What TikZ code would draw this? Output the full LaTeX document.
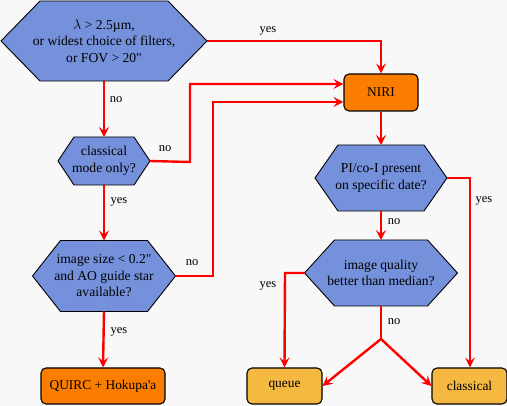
\documentclass[tikz,border=0pt]{standalone}
\usepackage{fontspec}
\setmainfont{Liberation Serif}[Ligatures=TeXOff]
\usetikzlibrary{arrows.meta}
\definecolor{bg}{HTML}{F8F8F8}
\definecolor{hexblue}{HTML}{7591DB}
\definecolor{niriorange}{HTML}{FA7D00}
\definecolor{lightorange}{HTML}{F5B942}
\definecolor{linered}{HTML}{FF0000}
\tikzset{
  hexshape/.style={fill=hexblue,draw=black,line width=0.9pt},
  hextext/.style={align=center,font=\fontsize{13.6}{16.5}\selectfont,inner sep=0pt},
  resultbox/.style={draw=black,line width=1.1pt,rounded corners=5pt,inner sep=0pt,font=\fontsize{13.4}{16}\selectfont},
  conn/.style={draw=linered,line width=2.4pt,-{Stealth[length=10pt,width=10pt,inset=4pt]}},
  connplain/.style={draw=linered,line width=2.4pt},
  lbl/.style={font=\fontsize{12.5}{14}\selectfont,inner sep=0pt}
}
% name, cx, cy, half width, half height, tip length, text
\newcommand\hexnode[7]{%
  \path[hexshape] ({#2-#4},#3) -- ({#2-#4+#6},{#3-#5}) -- ({#2+#4-#6},{#3-#5}) -- ({#2+#4},#3) -- ({#2+#4-#6},{#3+#5}) -- ({#2-#4+#6},{#3+#5}) -- cycle;
  \node[hextext] (#1) at (#2,#3) {#7};
  \coordinate (#1-W) at ({#2-#4},#3);
  \coordinate (#1-E) at ({#2+#4},#3);
  \coordinate (#1-N) at (#2,{#3-#5});
  \coordinate (#1-S) at (#2,{#3+#5});
}
\begin{document}
\begin{tikzpicture}[x=1pt,y=-1pt]
\fill[bg] (0,0) rectangle (507,406);
\useasboundingbox (0,0) rectangle (507,406);

\hexnode{h1}{104}{41}{103}{40}{39}{$\lambda$ > 2.5µm,\\or widest choice of filters,\\or FOV > 20"}
\hexnode{h2}{104}{161}{46}{24}{16}{classical\\mode only?}
\hexnode{h3}{104}{276}{71.5}{35.5}{28}{image size < 0.2"\\and AO guide star\\available?}
\hexnode{h4}{381}{178}{66}{33}{23}{PI/co-I present\\on specific date?}
\hexnode{h5}{381}{273}{76.5}{33}{30}{image quality\\better than median?}

\node[resultbox,fill=niriorange,minimum width=74pt,minimum height=37pt] (niri) at (381,92.5) {NIRI};
\node[resultbox,fill=niriorange,minimum width=124pt,minimum height=36pt] (quirc) at (103,386) {QUIRC + Hokupa'a};
\node[resultbox,fill=lightorange,minimum width=75pt,minimum height=36pt] (queue) at (284.5,386) {queue};
\node[resultbox,fill=lightorange,minimum width=75pt,minimum height=36pt] (classical) at (469.5,386) {classical};

\coordinate (split) at (381,339);

% left column
\draw[conn] (h1-E) -- (381,41) -- (niri.north);
\node[lbl] at (268,31) {yes};
\draw[conn] (h1-S) -- (h2-N);
\node[lbl] at (116,100) {no};
\draw[conn] (h2-E) -- (190,162) -- (190,84) -- (niri.west |- 0,84);
\node[lbl] at (165,149) {no};
\draw[conn] (h2-S) -- (h3-N);
\node[lbl] at (119,202) {yes};
\draw[conn] (h3-E) -- (213,276) -- (213,102) -- (niri.west |- 0,102);
\node[lbl] at (192,263) {no};
\draw[conn] (h3-S) -- (quirc.north);
\node[lbl] at (119,332) {yes};

% right column
\draw[conn] (niri.south) -- (h4-N);
\draw[conn] (h4-E) -- (470,178) -- (classical.north -| 470,0);
\node[lbl] at (484,201) {yes};
\draw[conn] (h4-S) -- (h5-N);
\node[lbl] at (394,222) {no};
\draw[conn] (h5-W) -- (285,273) -- (queue.north);
\node[lbl] at (268,286) {yes};
\draw[connplain] (h5-S) -- (split);
\node[lbl] at (394,322) {no};
\draw[conn] (split) -- (queue.east);
\draw[conn] (split) -- (classical.west);
\end{tikzpicture}
\end{document}
